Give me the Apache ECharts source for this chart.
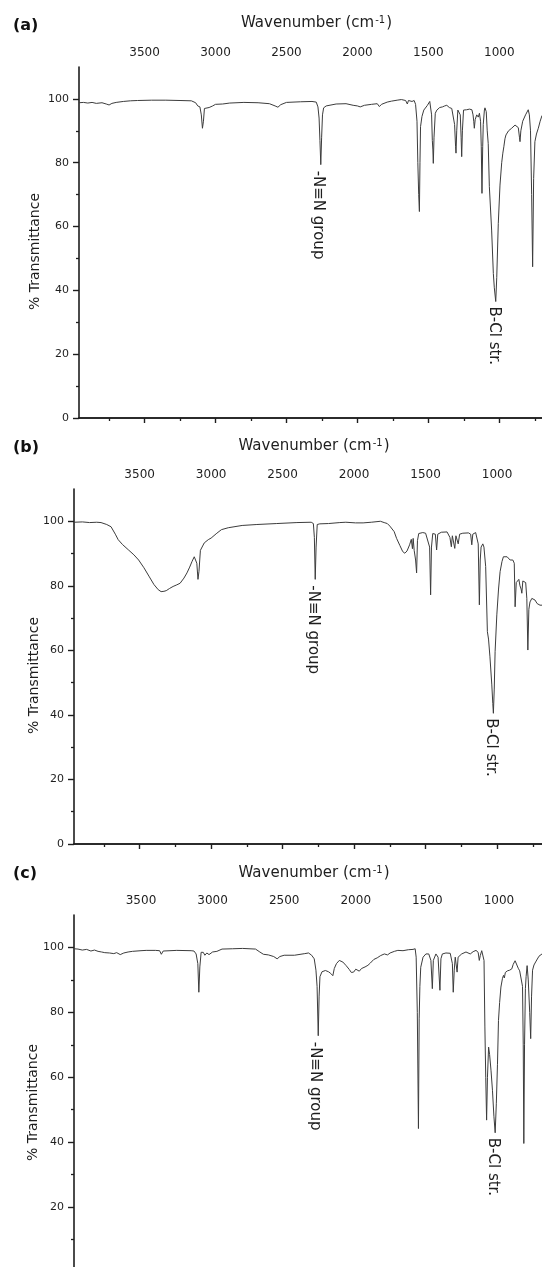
<!DOCTYPE html>
<html>
<head>
<meta charset="utf-8">
<script src="https://cdn.jsdelivr.net/npm/echarts@6/dist/echarts.min.js"></script>
<style>html,body{margin:0;padding:0;background:#fff}#chart{width:542px;height:1267px}</style>
</head>
<body>
<div id="chart"></div>
<script>
// ---- data (wavenumber cm-1, % transmittance) ----
const spectrumA = [
[3962,98.8],[3930,98.9],[3900,98.7],[3870,98.9],[3840,98.6],[3800,98.8],[3770,98.4],[3750,98.1],[3730,98.6],[3700,98.9],
[3650,99.2],[3600,99.4],[3550,99.5],[3450,99.6],[3350,99.6],[3250,99.5],[3170,99.4],[3140,98.8],[3125,97.8],[3110,97.5],
[3100,95],[3092,90.8],[3085,93],[3078,97],[3065,97.6],[3045,97.3],[3020,97.8],[3000,98.3],[2950,98.4],[2900,98.7],
[2800,98.9],[2700,98.8],[2620,98.5],[2580,97.8],[2560,97.4],[2540,98.2],[2500,98.9],[2400,99.1],[2320,99.2],[2290,99.0],
[2278,97.5],[2270,94],[2264,87],[2258,79.4],[2252,88],[2246,95],[2238,97.2],[2220,97.8],[2150,98.4],[2080,98.5],
[2030,98.0],[2000,97.8],[1980,97.5],[1950,98.0],[1900,98.3],[1860,98.5],[1845,97.6],[1830,98.3],[1790,99.0],[1760,99.3],
[1720,99.6],[1690,99.8],[1660,99.5],[1648,98.4],[1640,99.5],[1615,99.2],[1600,99.5],[1590,98.3],[1580,93],[1574,80],
[1568,70],[1563,64.7],[1559,80],[1555,91.3],[1545,94.5],[1532,96.5],[1508,97.9],[1490,99.2],[1483,99.6],[1477,95],
[1472,87],[1468,84],[1465,79.8],[1460,88],[1451,95.5],[1440,96.5],[1420,97.3],[1400,97.5],[1385,97.8],[1370,98],
[1352,97.3],[1335,97],[1322,96.5],[1315,92],[1308,85],[1305,83],[1300,90],[1292,96.5],[1284,97],[1275,95],
[1269,88],[1265,81.9],[1260,90],[1252,96.5],[1230,96.6],[1210,96.8],[1193,96.6],[1185,95],[1180,93],[1176,90.8],
[1170,93.5],[1159,95],[1148,94.3],[1140,95.5],[1132,93],[1127,85],[1122,70.4],[1117,85],[1113,92],[1105,96.5],
[1101,97.2],[1092,96],[1085,90],[1078,86],[1070,72.5],[1054,58.9],[1042,45.3],[1035,40.8],[1025,36.5],[1018,44],
[1007,61],[995,73],[983,80],[975,83],[968,85],[960,87.5],[953,88.7],[935,90],[913,90.8],[900,91.3],
[889,91.8],[875,91.5],[866,91],[858,88],[854,86.6],[848,90],[835,93],[815,95],[796,96.6],[788,95],
[780,90],[772,70],[765,47.4],[758,75],[749,86.6],[738,89],[725,90.8],[712,93],[699,94.8]
];
const spectrumB = [
[3959,99.7],[3900,99.8],[3850,99.6],[3800,99.7],[3770,99.6],[3730,99.0],[3700,98.3],[3670,96.0],[3650,94.3],[3620,92.8],
[3580,91.2],[3540,89.6],[3507,88.0],[3470,85.6],[3435,83.0],[3400,80.4],[3370,78.8],[3350,78.2],[3330,78.3],[3314,78.5],
[3290,79.2],[3266,79.8],[3240,80.3],[3217,80.8],[3190,82.4],[3169,84.0],[3150,85.8],[3133,87.6],[3118,89.0],[3110,89.2],
[3100,87.0],[3092,82.0],[3085,84.5],[3075,91.0],[3048,93.3],[3020,94.3],[3000,94.8],[2960,96.3],[2928,97.4],[2880,98.0],
[2783,98.7],[2680,99.0],[2541,99.3],[2400,99.6],[2300,99.7],[2285,99.3],[2278,95],[2272,82],[2266,92],[2258,99.0],
[2240,99.2],[2179,99.3],[2100,99.6],[2058,99.7],[1990,99.5],[1937,99.5],[1880,99.7],[1816,100.0],[1790,99.6],[1768,99.3],
[1750,98.5],[1720,96.8],[1703,94.7],[1680,92.5],[1660,90.6],[1645,90.1],[1630,90.8],[1612,92.7],[1600,94.4],[1592,91.5],
[1587,94.7],[1580,91],[1570,88],[1563,84],[1557,94],[1548,96.2],[1520,96.5],[1500,96.3],[1490,96],[1472,92],
[1465,77.2],[1459,92],[1450,96.2],[1432,96],[1423,91.1],[1415,96],[1390,96.6],[1350,96.7],[1330,95],[1320,92.1],
[1313,95.5],[1305,96],[1296,91.6],[1288,95.5],[1280,96],[1272,93],[1262,96],[1240,96.3],[1200,96.4],[1185,96],
[1177,92.7],[1170,96],[1150,96.5],[1142,96],[1132,93],[1124,74.1],[1118,88],[1112,92],[1106,91.8],[1100,93],
[1092,92],[1080,86],[1068,65.8],[1060,63.5],[1050,58],[1037,49.3],[1030,43.5],[1026,40.5],[1020,48],[1014,59.6],
[1002,71],[990,79],[979,84.4],[966,87.5],[956,89],[945,89.3],[930,89],[909,88],[890,88],[880,87],
[874,73.5],[866,81],[858,81.3],[848,82],[840,80],[832,79],[827,77.7],[820,81.5],[810,82],[800,81],
[792,76],[785,60.1],[778,72.7],[770,75],[757,76.1],[745,75.5],[735,75.6],[720,74.5],[700,74],[686,74]
];
const spectrumC = [
[3968,99.6],[3940,99.5],[3910,99.2],[3880,99.4],[3850,98.9],[3825,99.2],[3800,98.8],[3775,98.6],[3753,98.4],[3720,98.3],
[3690,98.1],[3670,98.4],[3645,97.8],[3620,98.3],[3590,98.6],[3560,98.8],[3500,99.0],[3464,99.1],[3400,99.1],[3370,99.0],
[3358,97.9],[3345,98.9],[3250,99.1],[3150,99.0],[3130,98.9],[3115,98.0],[3103,95],[3096,86.2],[3089,94],[3080,98.5],
[3065,98.5],[3054,97.6],[3040,98.3],[3025,97.8],[3000,98.6],[2970,98.8],[2934,99.5],[2860,99.6],[2790,99.7],[2700,99.5],
[2670,98.6],[2645,97.9],[2610,97.7],[2573,97.2],[2549,96.5],[2530,97.2],[2500,97.6],[2428,97.6],[2356,98.1],[2330,98.3],
[2308,97.6],[2290,96.5],[2278,93],[2270,88],[2262,72.8],[2256,85],[2250,91],[2236,92.5],[2212,92.9],[2190,92.5],
[2175,92.0],[2160,91.3],[2150,93.5],[2135,95],[2115,96],[2090,95.5],[2067,94.4],[2045,93.2],[2031,92.3],[2015,92.4],
[2000,93.3],[1990,93.4],[1975,92.7],[1960,93.5],[1935,94.0],[1915,94.5],[1898,95.2],[1874,96.3],[1850,96.8],[1826,97.5],
[1800,98.0],[1778,97.7],[1760,98.3],[1730,98.8],[1706,99.1],[1670,99.0],[1633,99.3],[1600,99.4],[1585,99.6],[1578,97],
[1570,80],[1562,44.2],[1557,78],[1552,88],[1546,93.9],[1530,97.0],[1510,98],[1490,98],[1475,96],[1465,87.3],
[1458,96],[1440,98],[1425,97],[1412,86.8],[1405,96.5],[1395,98],[1370,98.3],[1340,98.2],[1325,95],[1319,86.2],
[1312,93],[1305,97],[1292,92.4],[1285,97],[1260,98],[1230,98.6],[1200,98],[1180,98.7],[1160,99.1],[1145,98.5],
[1137,96],[1130,97.5],[1120,99],[1110,99.1],[1104,96],[1098,75.5],[1092,60],[1086,46.8],[1080,60],[1072,69.3],
[1065,67],[1055,62],[1045,56],[1035,48],[1026,42.9],[1018,52],[1010,64],[1003,77.5],[995,83],[986,87.8],
[975,90.5],[968,91.4],[962,90.6],[955,92.3],[940,92.8],[925,93],[910,93.4],[900,94.8],[887,95.9],[878,95.5],
[865,93.6],[855,92.8],[845,93],[835,88],[830,70],[826,39.6],[821,70],[815,87.3],[810,91],[803,94.4],
[795,90],[785,80],[778,71.9],[772,85],[765,93],[755,94.6],[740,95.8],[720,97.3],[699,98]
];
// peak tips used for the text annotations [wavenumber, %T]
const nnPeaks = [[2258,79.4],[2270,82],[2262,72.8]];
const bclPeaks = [[1025,36.5],[1026,40.5],[1026,42.9]];
const panelLabels = ['(a)','(b)','(c)'];
const majorWaveTicks = [3500,3000,2500,2000,1500,1000];
const minorWaveTicks = [3750,3250,2750,2250,1750,1250,750];
const majorTransTicks = [0,20,40,60,80,100];
const minorTransTicks = [10,30,50,70,90];
const waveRanges = [[699,3962],[686,3959],[699,3968]];

// ---- layout ----
const layouts = [
  {left:79, top:67, height:351, xGap:35, yGap:37},
  {left:74, top:489, height:355, xGap:34, yGap:33},
  {left:74, top:915, height:357, xGap:33, yGap:34}
];
const spectra = [spectrumA, spectrumB, spectrumC];
const FONT = 'DejaVu Sans';
const INK = '#1e1e1e';
const plain = v => String(v);

const option = {
  backgroundColor:'#ffffff',
  animation:false,
  title: layouts.map((l,i)=>({
    text: panelLabels[i], left: 13, top: l.top - 49, padding: 0,
    textStyle:{fontFamily:FONT, fontSize:16, fontWeight:'bold', color:'#111'}
  })),
  grid: layouts.map(l=>({left:l.left, top:l.top, height:l.height, right:0, containLabel:false, outerBoundsMode:'none'})),
  xAxis: [], yAxis: [], series: []
};

layouts.forEach((l,i)=>{
  const [mn,mx] = waveRanges[i];
  option.xAxis.push({
    gridIndex:i, type:'value', position:'top', inverse:true, min:mn, max:mx,
    name:'Wavenumber (cm{sup|-1})', nameLocation:'middle', nameGap:l.xGap, nameMoveOverlap:false,
    nameTextStyle:{fontFamily:FONT, fontSize:15, color:INK, padding:[0,0,0,12],
      rich:{sup:{fontFamily:FONT, fontSize:10, color:INK, verticalAlign:'bottom', padding:[0,1,7,1]}}},
    axisLine:{show:true, lineStyle:{color:INK, width:1.6}},
    axisTick:{show:true, inside:true, length:5, customValues:majorWaveTicks, lineStyle:{color:INK, width:1.4}},
    axisLabel:{show:true, customValues:majorWaveTicks, formatter:plain, fontFamily:FONT, fontSize:12, color:INK, margin:8},
    splitLine:{show:false}
  });
  option.xAxis.push({
    gridIndex:i, type:'value', position:'top', inverse:true, min:mn, max:mx,
    axisLine:{show:false},
    axisTick:{show:true, inside:true, length:3, customValues:minorWaveTicks, lineStyle:{color:INK, width:1.3}},
    axisLabel:{show:false}, splitLine:{show:false}
  });
  option.xAxis.push({
    gridIndex:i, type:'value', position:'bottom', inverse:true, min:mn, max:mx,
    axisLine:{show:true, lineStyle:{color:INK, width:1.6}},
    axisTick:{show:false}, axisLabel:{show:false}, splitLine:{show:false}
  });
  option.yAxis.push({
    gridIndex:i, type:'value', position:'left', min:0, max:110,
    name:'% Transmittance', nameLocation:'middle', nameGap:l.yGap, nameMoveOverlap:false,
    nameTextStyle:{fontFamily:FONT, fontSize:14, color:INK, padding:[0,18,0,0]},
    axisLine:{show:true, lineStyle:{color:INK, width:1.6}},
    axisTick:{show:true, inside:false, length:6, customValues:majorTransTicks, lineStyle:{color:INK, width:1.4}},
    axisLabel:{show:true, customValues:majorTransTicks, formatter:plain, fontFamily:FONT, fontSize:11, color:INK, margin:10},
    splitLine:{show:false}
  });
  option.yAxis.push({
    gridIndex:i, type:'value', position:'left', min:0, max:110,
    axisLine:{show:false},
    axisTick:{show:true, inside:false, length:3, customValues:minorTransTicks, lineStyle:{color:INK, width:1.3}},
    axisLabel:{show:false}, splitLine:{show:false}
  });
  option.series.push({
    type:'line', xAxisIndex:i*3, yAxisIndex:i*2, data:spectra[i],
    showSymbol:false, symbol:'none', smooth:false, silent:true,
    lineStyle:{color:'#3c3c3c', width:1},
    markPoint:{
      symbol:'circle', symbolSize:0, silent:true, animation:false,
      label:{show:true, position:'inside', rotate:-90, align:'left', verticalAlign:'middle',
        fontFamily:FONT, fontSize:15, color:INK},
      data:[
        {coord:nnPeaks[i], label:{formatter:'-N\u2261N group', offset:[6,3]}},
        {coord:bclPeaks[i], label:{formatter:'B-Cl str.', offset:[5,2]}}
      ]
    }
  });
});

const chart = echarts.init(document.getElementById('chart'), null, {renderer:'canvas', width:542, height:1267});
chart.setOption(option);
</script>
</body>
</html>
